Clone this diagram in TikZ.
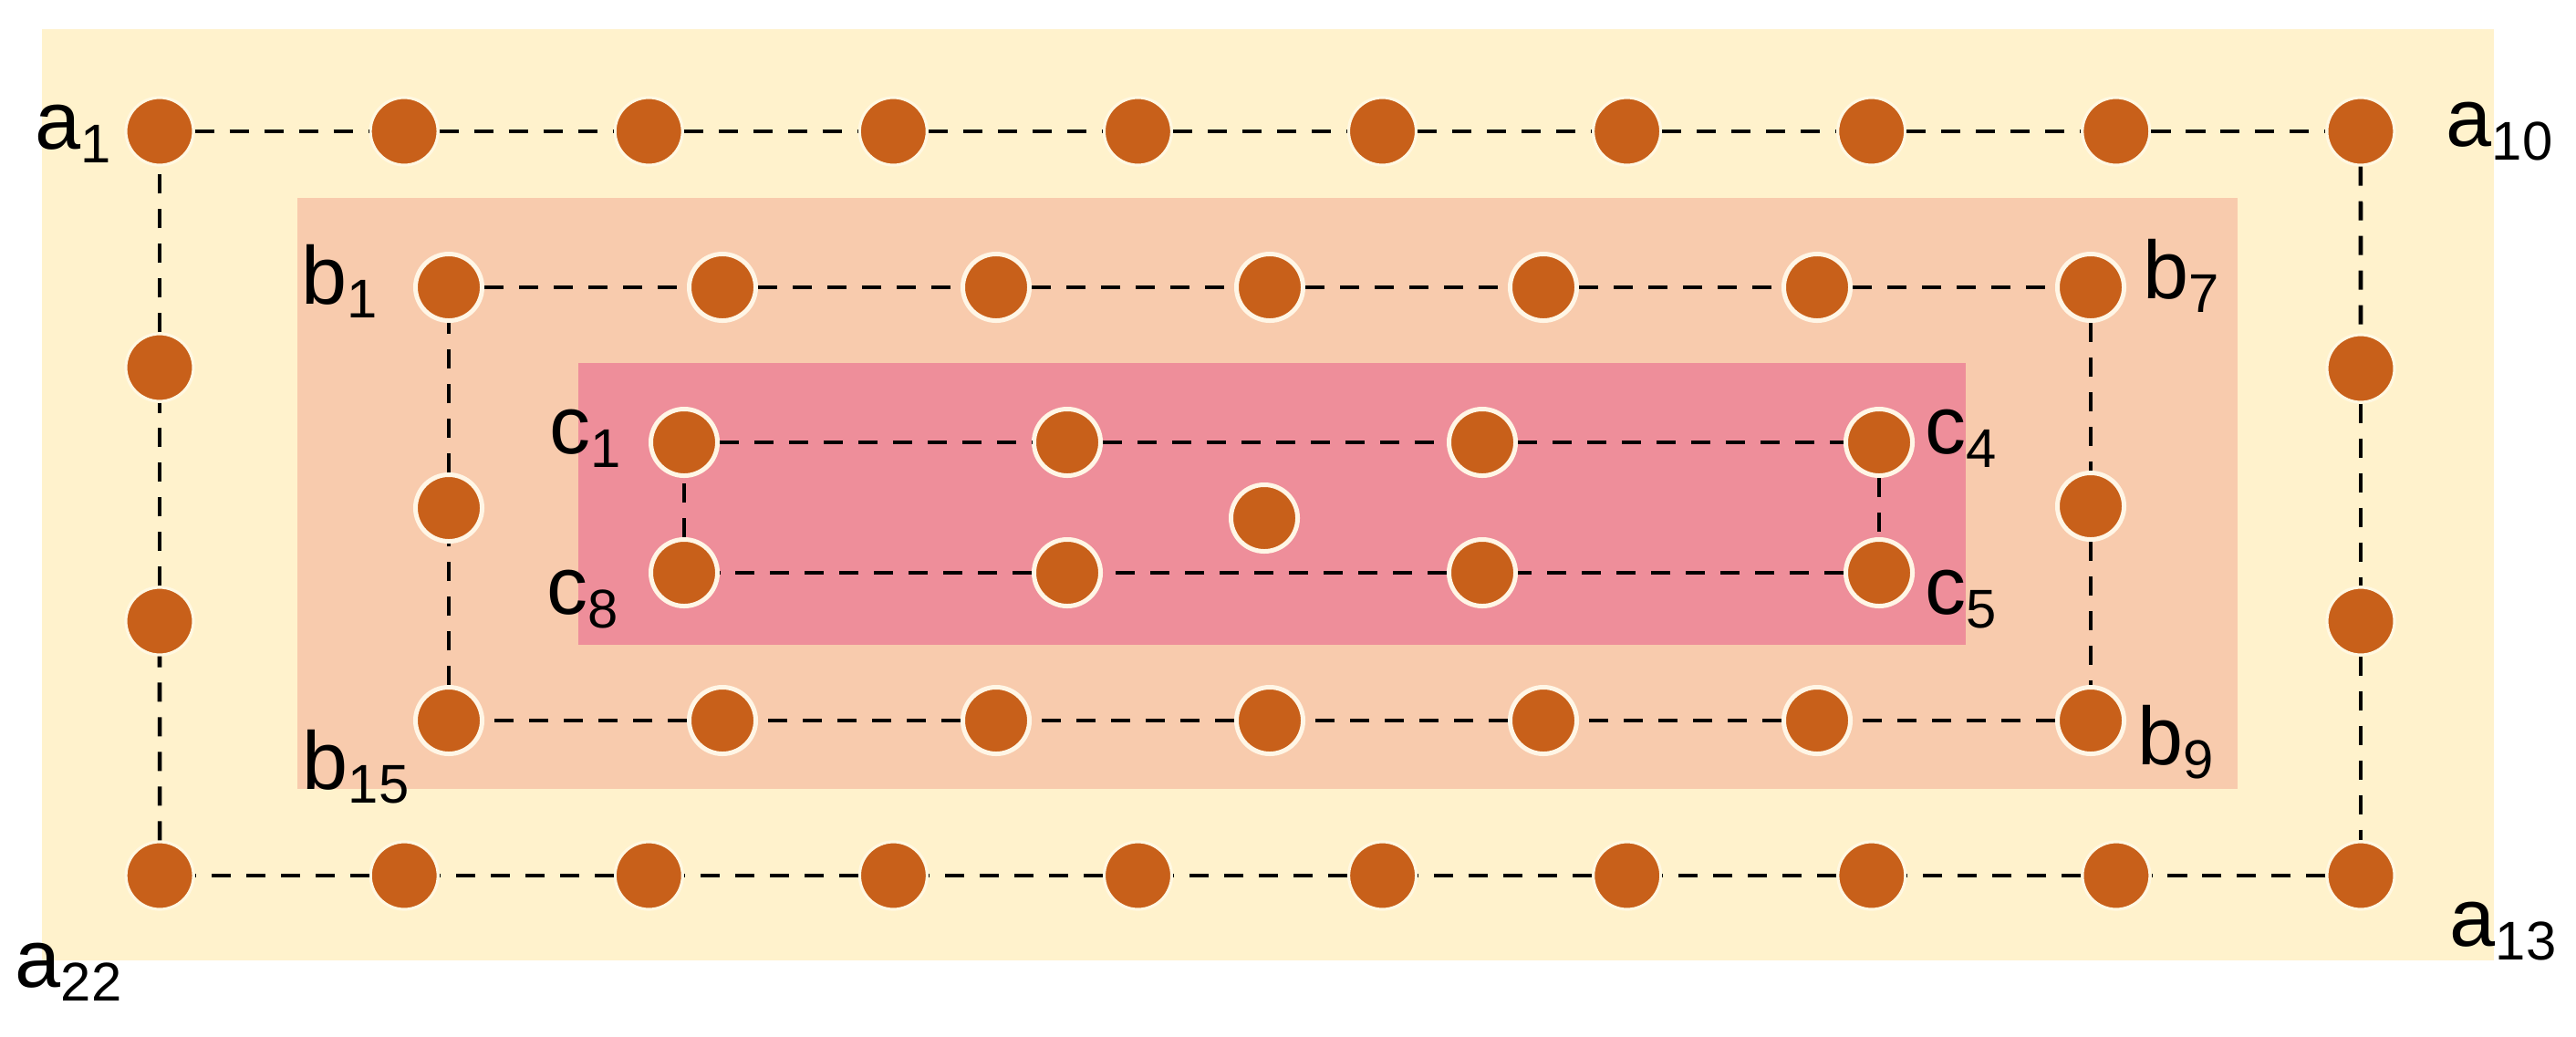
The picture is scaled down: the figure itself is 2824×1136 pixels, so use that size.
\documentclass[tikz,border=0pt]{standalone}
\usepackage{fontspec}
\setmainfont{Liberation Sans}
\definecolor{outerY}{HTML}{FFF2CC}
\definecolor{midP}{HTML}{F8CBAD}
\definecolor{innerR}{HTML}{EE8E9A}
\definecolor{dotB}{HTML}{C8601A}
\definecolor{ringW}{HTML}{FFF6E6}
\definecolor{ringY}{HTML}{FFF8E2}
\newcommand{\lblx}[2]{#1\raisebox{-4.5pt}{\fontsize{17}{17}\selectfont #2}}
\tikzset{
  dot/.style={circle, fill=dotB, draw=ringW, line width=1.42pt, minimum size=0.73cm, inner sep=0pt},
  adot/.style={dot, draw=ringY, line width=0.9pt, minimum size=0.74cm},
  link/.style={draw=black, line width=1.3pt, dash pattern=on 6pt off 4.8pt},
  lbl/.style={anchor=base west, inner sep=0pt, font=\fontsize{25.6}{30}\selectfont}
}
\begin{document}
\begin{tikzpicture}[x=0.01cm, y=-0.01cm]
\useasboundingbox (0,0) rectangle (2824,1136);
\fill[white] (0,0) rectangle (2824,1136);
% panels
\fill[outerY] (46,32) rectangle (2734,1053);
\fill[midP] (326,217) rectangle (2453,865);
\fill[innerR] (634,398) rectangle (2155,707);
% a ring
\foreach \i in {1,...,10} \node[adot] (a\i) at ({175+(\i-1)*268.1},144) {};
\node[adot] (a11) at (2588,404) {};
\node[adot] (a12) at (2588,681) {};
\foreach \k in {0,...,9} {
  \pgfmathtruncatemacro{\n}{13+\k}
  \node[adot] (a\n) at ({2588-\k*268.1},960) {};
}
\node[adot] (a23) at (175,681) {};
\node[adot] (a24) at (175,403) {};
% b ring
\foreach \i in {1,...,7} \node[dot] (b\i) at ({492+(\i-1)*300},315) {};
\node[dot] (b8) at (2292,555) {};
\foreach \k in {0,...,6} {
  \pgfmathtruncatemacro{\n}{9+\k}
  \node[dot] (b\n) at ({2292-\k*300},790) {};
}
\node[dot] (b16) at (492,557) {};
% c ring
\node[dot] (c1) at (750,485) {};
\node[dot] (c2) at (1170,485) {};
\node[dot] (c3) at (1625,485) {};
\node[dot] (c4) at (2060,485) {};
\node[dot] (c5) at (2060,628) {};
\node[dot] (c6) at (1625,628) {};
\node[dot] (c7) at (1170,628) {};
\node[dot] (c8) at (750,628) {};
\node[dot] (c0) at (1386,568) {};
% links
\foreach \i [count=\j from 2] in {1,...,23} \draw[link] (a\i) -- (a\j);
\draw[link] (a24) -- (a1);
\foreach \i [count=\j from 2] in {1,...,15} \draw[link] (b\i) -- (b\j);
\draw[link] (b16) -- (b1);
\foreach \i [count=\j from 2] in {1,...,7} \draw[link] (c\i) -- (c\j);
\draw[link] (c8) -- (c1);
% labels
\node[lbl] (la1) at (38,163) {\lblx{a}{1}};
\node[lbl] (la10) at (2681,160) {\lblx{a}{10}};
\node[lbl] (la13) at (2685,1037) {\lblx{a}{13}};
\node[lbl] (la22) at (16,1082) {\lblx{a}{22}};
\node[lbl] (lb1) at (330,333) {\lblx{b}{1}};
\node[lbl] (lb7) at (2349,327) {\lblx{b}{7}};
\node[lbl] (lb9) at (2343,838) {\lblx{b}{9}};
\node[lbl] (lb15) at (331,865) {\lblx{b}{15}};
\node[lbl] (lc1) at (602,497) {\lblx{c}{1}};
\node[lbl] (lc4) at (2110,497) {\lblx{c}{4}};
\node[lbl] (lc5) at (2110,673) {\lblx{c}{5}};
\node[lbl] (lc8) at (599,673) {\lblx{c}{8}};
\end{tikzpicture}
\end{document}
